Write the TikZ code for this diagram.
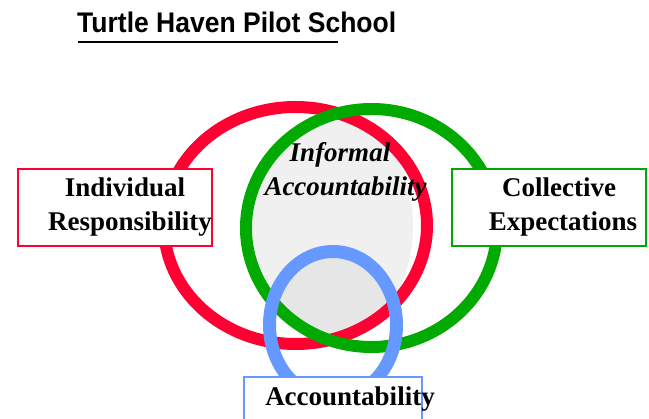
\documentclass[tikz,border=0pt]{standalone}
\usepackage{fontspec}
\setmainfont{Liberation Serif}
\newfontfamily\titlefont{Liberation Sans}
\definecolor{tred}{HTML}{FF0033}
\definecolor{tgreen}{HTML}{00AA00}
\definecolor{tblue}{HTML}{6699FF}
\definecolor{lgray}{HTML}{F0F0F0}
\definecolor{dgray}{HTML}{E6E6E6}
\begin{document}
\begin{tikzpicture}[x=1pt,y=-1pt,
  ring/.style={line width=12pt},
  labelbox/.style={draw,line width=2pt,fill=white,inner sep=0pt,minimum width=194pt,minimum height=77pt},
  boxtext/.style={font=\fontsize{27}{34}\selectfont\bfseries,inner sep=0pt,anchor=base},
  ittext/.style={font=\fontsize{27}{34}\selectfont\bfseries\itshape,inner sep=0pt,anchor=base}
]
\useasboundingbox (0,0) rectangle (649,419);
\fill[white] (0,0) rectangle (649,419);

% title
\node[inner sep=0pt,anchor=base west,font=\titlefont\fontsize{26.5}{30}\selectfont\bfseries] (title) at (77,33) {\scalebox{1}[1.07]{Turtle Haven Pilot School}};
\draw[line width=2pt] (78,42) -- (338,42);

% gray fills
\fill[lgray] (333,226) ellipse [x radius=80pt, y radius=112pt];
\begin{scope}
  \clip (333,325) ellipse [x radius=63.5pt, y radius=73.5pt];
  \fill[dgray] (333,226) ellipse [x radius=80pt, y radius=112pt];
\end{scope}

% rings
\draw[ring,tred] (295.5,225.5) ellipse [x radius=131.5pt, y radius=118.5pt];
\draw[ring,tgreen] (371.5,228) ellipse [x radius=125.5pt, y radius=119pt];
\draw[ring,tblue,line width=13pt] (333,325) ellipse [x radius=63.5pt, y radius=73.5pt];

% boxes
\node[labelbox,draw=tred] (indbox) at (115,207.5) {};
\node[labelbox,draw=tgreen] (colbox) at (549,207.5) {};
\node[labelbox,draw=tblue,minimum width=178pt,minimum height=80pt] (accbox) at (333,417) {};

% texts
\node[boxtext] (ind1) at (125,197) {Individual};
\node[boxtext] (ind2) at (130,231) {Responsibility};
\node[boxtext] (col1) at (559,197) {Collective};
\node[boxtext] (col2) at (563,231) {Expectations};
\node[ittext] (inf1) at (340,162) {Informal};
\node[ittext] (inf2) at (345.5,196) {Accountability};
\node[boxtext] (acc) at (350,406) {Accountability};
\end{tikzpicture}
\end{document}
